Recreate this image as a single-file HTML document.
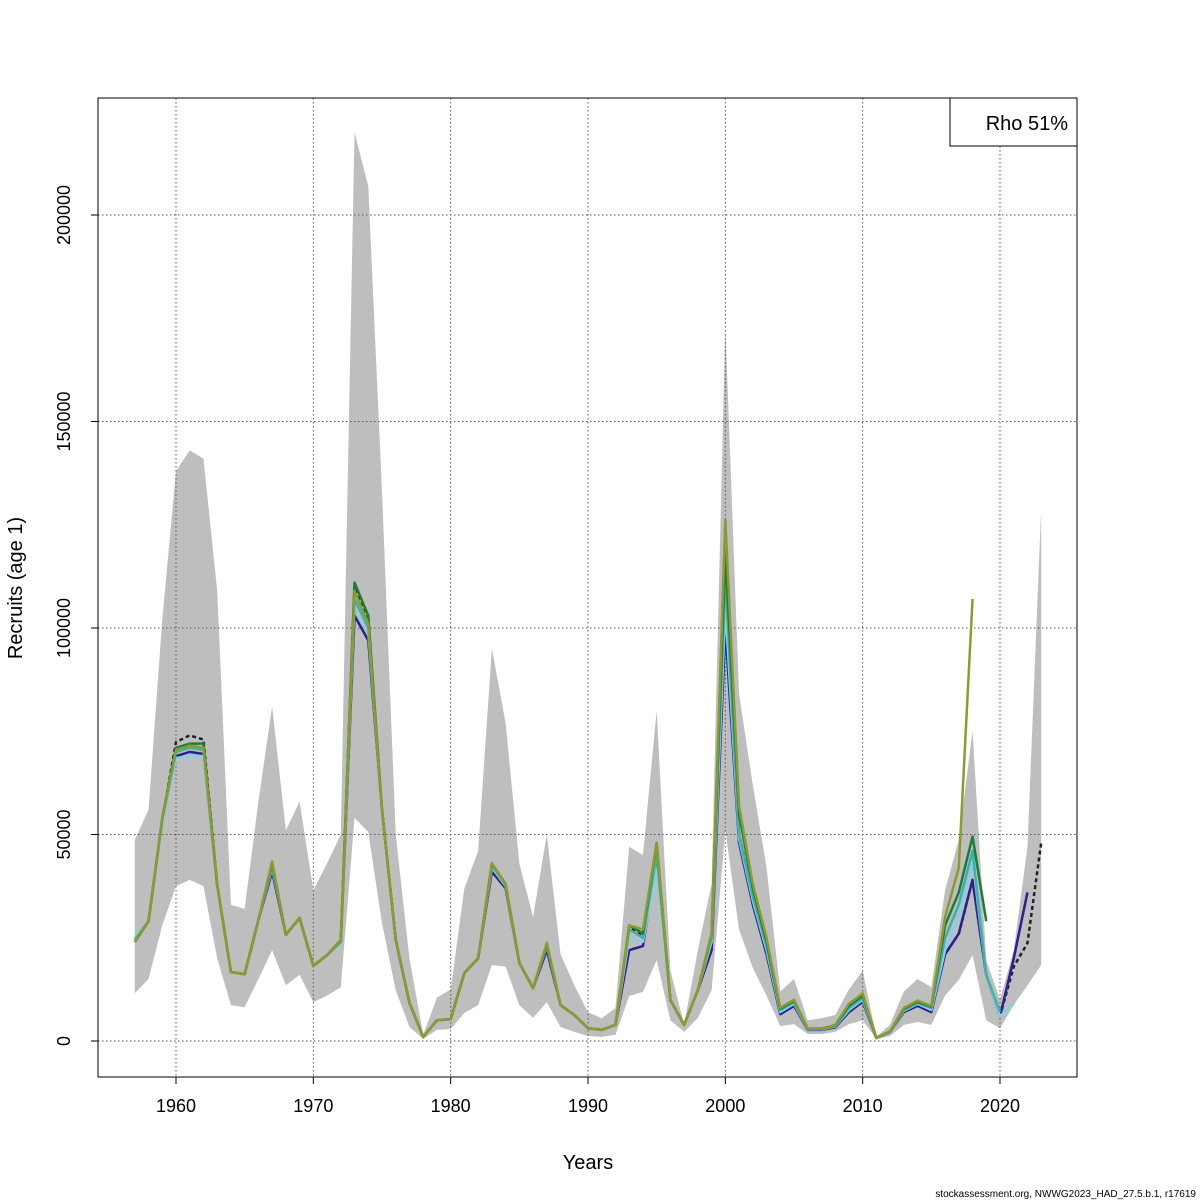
<!DOCTYPE html>
<html><head><meta charset="utf-8"><style>
html,body{margin:0;padding:0;background:#fff}
svg{display:block;font-family:"Liberation Sans",sans-serif}
</style></head><body>
<svg id="c" width="1200" height="1200" viewBox="0 0 1200 1200"></svg>
<script>
const years=[];for(let y=1957;y<=2023;y++)years.push(y);
const upper=[48.7,56,102,138,143,141,109,33,32,58,81,51,58,36.5,43,50,220,207,133,50,20,1.5,10.5,12.5,37,46,95,77,43,30,50,21,13.5,7,5.5,8,47,45,80,17,4,22,38,173,84,62,42,12,15,5,5.5,6.3,12.5,17,1,4,12,15,13,36.5,48.7,75,19.5,10,22,47,129];
const lower=[11.6,15,28,37.5,39,37.5,20,8.7,8.2,15,22,13.5,16,9.4,11,13,54,50.6,28.5,12.3,3.4,0.5,2.7,2.9,6.8,8.7,18.4,18,8.7,5.6,9.4,3.4,2.2,1.2,1,1.5,10.9,11.9,19.6,5,2.2,5.6,12.3,51,27,17.7,11,3.6,4.1,1.7,1.7,2.2,4.1,5,0.5,1.2,3.9,4.6,3.9,11,14.8,20.8,5,3.1,8.7,13.5,18.4];
const mainRun=[24,29,53.5,72.4,74,73,37.8,16.7,16.2,29.3,42.6,25.7,29.8,18.2,20.8,24,110,102,56,24.5,9.2,1,5,5.3,16.5,20,42.6,37.8,18.9,12.8,23.2,8.7,6.3,3.1,2.7,3.9,27.4,25.7,47.5,9.9,3.9,12.3,25.7,125,50,35.4,23.2,7.5,9.4,2.9,2.9,3.6,8,10.4,0.7,2.2,7.5,9.2,8,21,26,39,16,6,18,23.7,48];
const peelNavy=[24,29,53.5,69,70,69.5,37.8,16.7,16.2,29.3,41,25.7,29.8,18.2,20.8,24,103,97,56,24.5,9.2,1,5,5.3,16.5,20,41,37,18.9,12.8,22,8.7,6.3,3.1,2.7,3.9,22,23,44,9.9,3.9,12.3,22,100,48,33,21,6.5,8.5,2.7,2.7,3.3,7,9.5,0.7,2.2,7,8.5,7,21,26,39,16,6,20,36];
const peelCyan=[25,29,53,68.5,69,69,37.8,16.7,16.2,29.3,42,25.7,29.8,18.2,20.8,24,106,99,56,24.5,9.2,1,5,5.3,16.5,20,42,37.5,18.9,12.8,23,8.7,6.3,3.1,2.7,3.9,25,24,42,9.9,3.9,12.3,24,105,49,34,22,7,9,2.8,2.8,3.5,7.5,10,0.7,2.2,7.3,9,7.5,22,30,44,16,6,9];
const peelTeal=[24.5,29,53.5,70,71,70.5,37.8,16.7,16.2,29.3,42.6,25.7,29.8,18.2,20.8,24,107,100,56,24.5,9.2,1,5,5.3,16.5,20,42.6,37.8,18.9,12.8,23.2,8.7,6.3,3.1,2.7,3.9,27,25,45,9.9,3.9,12.3,25,112,50,35,23,7.5,9.4,2.9,2.9,3.6,8,10.4,0.7,2.2,7.5,9.2,8,25,33,46,16,7];
const peelGreen=[24,29,54,71,72,72,37.8,16.7,16.2,29.3,43,25.7,29.8,18.2,20.8,24.5,111,103,56,24.5,9.2,1,5,5.3,16.5,20,43,38,18.9,12.8,23.5,8.7,6.3,3.1,2.7,3.9,28,26,48,9.9,3.9,12.3,26,118,55,37,24,7.8,9.8,3,3,3.8,8.5,11,0.8,2.3,7.8,9.5,8.3,28,36,49.5,29];
const peelOlive=[24,29,54,70.5,71.5,71,37.8,16.7,16.2,29.3,43.5,25.7,29.8,18.2,20.8,24.5,109,101,56,24.5,9.2,1,5,5.3,16.5,20,43,38,18.9,12.8,23.8,8.7,6.3,3.1,2.7,3.9,28,27,48,9.9,3.9,12.3,26,126,57,38,25,8,10,3,3,3.9,9,11.5,0.8,2.4,8,9.8,8.5,30,42,107];
const xTicks=[1960,1970,1980,1990,2000,2010,2020];
const yTicks=[0,50000,100000,150000,200000];

const NS="http://www.w3.org/2000/svg";const svg=document.getElementById('c');
const X=y=>176+(y-1960)*824/60;
const Y=v=>1041-v*1000*826/200000;
function mk(t,a,p){const e=document.createElementNS(NS,t);for(const k in a)e.setAttribute(k,a[k]);(p||svg).appendChild(e);return e;}
let d='';years.forEach((y,i)=>{d+=(i?'L':'M')+X(y)+','+Y(upper[i]);});
for(let i=years.length-1;i>=0;i--)d+='L'+X(years[i])+','+Y(lower[i]);
const band=mk('path',{d:d+'Z',fill:'#bebebe'});


xTicks.forEach(t=>{const g=mk('line',{x1:X(t),x2:X(t),y1:98,y2:1077,stroke:'#555','stroke-dasharray':'1.5,2.5','stroke-width':1});
});
yTicks.forEach(t=>{const g=mk('line',{x1:98,x2:1077,y1:Y(t/1000),y2:Y(t/1000),stroke:'#555','stroke-dasharray':'1.5,2.5','stroke-width':1});
});
function line(arr,col,name,dash){let p='';arr.forEach((v,i)=>{p+=(i?'L':'M')+X(years[i])+','+Y(v);});
const e=mk('path',{d:p,fill:'none',stroke:col,'stroke-width':2.5,'stroke-linejoin':'round'});if(dash)e.setAttribute('stroke-dasharray',dash);
}
line(mainRun,'#222','final-run','4,3');
line(peelNavy,'#2e1f8e','peel-navy');
line(peelCyan,'#87ceeb','peel-cyan');
line(peelTeal,'#3cb3a8','peel-teal');
line(peelGreen,'#1e7b3a','peel-green');
line(peelOlive,'#8e9a2c','peel-olive');
const box=mk('rect',{x:98,y:98,width:979,height:979,fill:'none',stroke:'#000','stroke-width':1});

xTicks.forEach(t=>{mk('line',{x1:X(t),x2:X(t),y1:1077,y2:1084,stroke:'#000'});
const tx=mk('text',{x:X(t),y:1112,'font-size':18,'text-anchor':'middle'});tx.textContent=t;
});
yTicks.forEach(t=>{mk('line',{x1:91,x2:98,y1:Y(t/1000),y2:Y(t/1000),stroke:'#000'});
const tx=mk('text',{x:70,y:Y(t/1000),'font-size':18,'text-anchor':'middle',transform:`rotate(-90 70 ${Y(t/1000)})`});tx.textContent=t;
});
const xl=mk('text',{x:588,y:1169,'font-size':20,'text-anchor':'middle'});xl.textContent='Years';

const yl=mk('text',{x:22,y:588,'font-size':20,'text-anchor':'middle',transform:'rotate(-90 22 588)'});yl.textContent='Recruits (age 1)';

const lg=mk('rect',{x:950,y:98,width:127,height:48,fill:'#fff',stroke:'#000'});

const lt=mk('text',{x:1068,y:130,'font-size':20,'text-anchor':'end'});lt.textContent='Rho 51%';

const ft=mk('text',{x:1196,y:1197,'font-size':10,'text-anchor':'end'});ft.textContent='stockassessment.org, NWWG2023_HAD_27.5.b.1, r17619';

</script>
</body></html>
